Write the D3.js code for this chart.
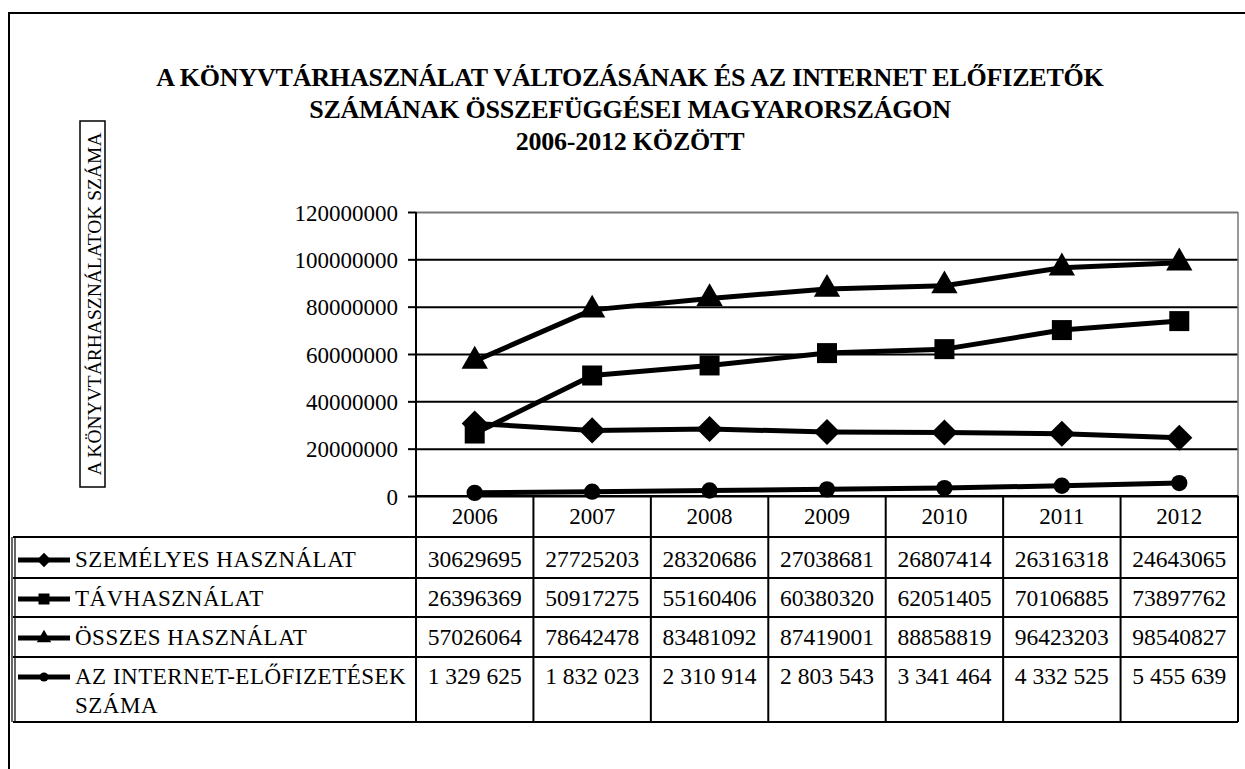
<!DOCTYPE html>
<html>
<head>
<meta charset="utf-8">
<script src="https://cdn.jsdelivr.net/npm/d3@7"></script>
<style>
  body { margin: 0; background: #fff; }
  text { font-family: "Liberation Serif", "Times New Roman", serif; fill: #000; }
</style>
</head>
<body>
<div id="chart"></div>
<script>
// data
const years = ["2006", "2007", "2008", "2009", "2010", "2011", "2012"];
const szemelyes = [30629695, 27725203, 28320686, 27038681, 26807414, 26316318, 24643065];
const tavhasznalat = [26396369, 50917275, 55160406, 60380320, 62051405, 70106885, 73897762];
const osszes = [57026064, 78642478, 83481092, 87419001, 88858819, 96423203, 98540827];
const internet = [1329625, 1832023, 2310914, 2803543, 3341464, 4332525, 5455639];
const seriesNames = ["SZEMÉLYES HASZNÁLAT", "TÁVHASZNÁLAT", "ÖSSZES HASZNÁLAT", "AZ INTERNET-ELŐFIZETÉSEK|SZÁMA"];
const yTicks = [0, 20000000, 40000000, 60000000, 80000000, 100000000, 120000000];
const titleLines = [
  "A KÖNYVTÁRHASZNÁLAT VÁLTOZÁSÁNAK ÉS  AZ INTERNET ELŐFIZETŐK",
  "SZÁMÁNAK ÖSSZEFÜGGÉSEI MAGYARORSZÁGON",
  "2006-2012 KÖZÖTT"
];
const yTitle = "A KÖNYVTÁRHASZNÁLATOK SZÁMA";

const series = [
  {name: seriesNames[0], values: szemelyes, symbol: "diamond"},
  {name: seriesNames[1], values: tavhasznalat, symbol: "square"},
  {name: seriesNames[2], values: osszes, symbol: "triangle"},
  {name: seriesNames[3], values: internet, symbol: "circle", spaced: true}
];

const W = 1245, H = 769;
const plot = {left: 416, right: 1238, top: 212, bottom: 496};

const svg = d3.select("#chart")
    .append("svg")
    .attr("width", W)
    .attr("height", H);

// outer frame (runs off the right and bottom edges)
svg.append("rect")
    .attr("x", 9).attr("y", 13)
    .attr("width", 1300).attr("height", 900)
    .attr("fill", "none").attr("stroke", "#000").attr("stroke-width", 2);

// title
svg.selectAll(".title")
  .data(titleLines)
  .join("text")
    .attr("class", "title")
    .attr("x", 630)
    .attr("y", (d, i) => 86 + i * 32)
    .attr("text-anchor", "middle")
    .style("font-size", "26px")
    .style("font-weight", "bold")
    .style("letter-spacing", "-0.2px")
    .text(d => d);

// y title in a box
svg.append("rect")
    .attr("x", 80).attr("y", 121)
    .attr("width", 25).attr("height", 366)
    .attr("fill", "none").attr("stroke", "#000").attr("stroke-width", 1.5);
svg.append("text")
    .attr("transform", "translate(100.5, 304) rotate(-90)")
    .attr("text-anchor", "middle")
    .style("font-size", "19.5px")
    .text(yTitle);

// scales
const x = d3.scaleBand().domain(years).range([plot.left, plot.right]);
const y = d3.scaleLinear().domain([0, 120000000]).range([plot.bottom, plot.top]);

// gridlines
svg.append("g")
    .attr("transform", `translate(${plot.left},0)`)
    .call(d3.axisLeft(y).tickValues(yTicks).tickSize(-(plot.right - plot.left)).tickFormat(""))
    .call(g => g.select(".domain").remove())
    .call(g => g.selectAll("line").attr("stroke", "#000").attr("stroke-width", 2))
    .call(g => g.selectAll("line").filter(d => d === 120000000).attr("stroke", "#777"));

// right border of plot
svg.append("line")
    .attr("x1", plot.right).attr("x2", plot.right)
    .attr("y1", plot.top).attr("y2", plot.bottom)
    .attr("stroke", "#777").attr("stroke-width", 1.5);

// y axis
svg.append("g")
    .attr("transform", `translate(${plot.left},0)`)
    .call(d3.axisLeft(y).tickValues(yTicks).tickSize(8).tickPadding(10).tickFormat(d3.format("d")))
    .call(g => g.select(".domain").attr("stroke-width", 2).attr("d", `M0,${plot.top}V${plot.bottom + 4}`))
    .call(g => g.selectAll("line").attr("stroke-width", 2))
    .call(g => g.selectAll("text").style("font-size", "23px").style("font-family", "Liberation Serif").attr("dy", "0.35em"));

// symbol helper
function symbolPath(type, scale) {
  const s = scale || 1;
  if (type === "diamond") return d3.symbol().type(d3.symbolSquare).size(340 * s * s)();
  if (type === "square") return d3.symbol().type(d3.symbolSquare).size(400 * s * s)();
  if (type === "triangle") return d3.symbol().type(d3.symbolTriangle).size(300 * s * s)();
  return d3.symbol().type(d3.symbolCircle).size(210 * s * s)();
}

// lines and markers
const line = d3.line()
    .x((d, i) => x(years[i]) + x.bandwidth() / 2)
    .y(d => y(d));

series.forEach(s => {
  svg.append("path")
      .datum(s.values)
      .attr("fill", "none")
      .attr("stroke", "#000")
      .attr("stroke-width", 5)
      .attr("stroke-linejoin", "round")
      .attr("d", line);
  svg.append("g").selectAll("path")
    .data(s.values)
    .join("path")
      .attr("d", symbolPath(s.symbol))
      .attr("fill", "#000")
      .attr("transform", (d, i) => `translate(${x(years[i]) + x.bandwidth() / 2},${y(d)})` + (s.symbol === "diamond" ? " rotate(45)" : ""));
});

// data table
const rowEdges = [496, 537, 578, 617, 657, 722];
const tableLeft = 13;
const fmtPlain = d3.format("d");
const fmtSpaced = d3.formatLocale({decimal: ",", thousands: " ", grouping: [3], currency: ["", ""]}).format(",d");

const table = svg.append("g");
// horizontal rules
table.selectAll(".hrule")
  .data(rowEdges)
  .join("line")
    .attr("x1", (d, i) => i === 0 ? plot.left : tableLeft)
    .attr("x2", plot.right)
    .attr("y1", d => d).attr("y2", d => d)
    .attr("stroke", "#000").attr("stroke-width", 2);
// vertical rules between years
table.selectAll(".vrule")
  .data(years.concat(["end"]))
  .join("line")
    .attr("x1", d => d === "end" ? plot.right : x(d))
    .attr("x2", d => d === "end" ? plot.right : x(d))
    .attr("y1", rowEdges[0]).attr("y2", rowEdges[5])
    .attr("stroke", "#000").attr("stroke-width", 2);
// left double edge
[12, 15].forEach(lx => {
  table.append("line")
      .attr("x1", lx).attr("x2", lx)
      .attr("y1", rowEdges[1]).attr("y2", rowEdges[5])
      .attr("stroke", "#000").attr("stroke-width", 1.2);
});

// year header
table.selectAll(".year")
  .data(years)
  .join("text")
    .attr("x", d => x(d) + x.bandwidth() / 2)
    .attr("y", 524)
    .attr("text-anchor", "middle")
    .style("font-size", "23px")
    .text(d => d);

const rowBase = [567, 606, 645, 684];
series.forEach((s, r) => {
  // values
  table.append("g").selectAll("text")
    .data(s.values)
    .join("text")
      .attr("x", (d, i) => x(years[i]) + x.bandwidth() / 2)
      .attr("y", rowBase[r])
      .attr("text-anchor", "middle")
      .style("font-size", "23.5px")
      .text(d => s.spaced ? fmtSpaced(d) : fmtPlain(d));
  // legend key
  const ky = rowBase[r] - 7;
  table.append("line")
      .attr("x1", 18).attr("x2", 70)
      .attr("y1", ky).attr("y2", ky)
      .attr("stroke", "#000").attr("stroke-width", 5);
  table.append("path")
      .attr("d", symbolPath(s.symbol, 0.55))
      .attr("fill", "#000")
      .attr("transform", `translate(44,${ky})` + (s.symbol === "diamond" ? " rotate(45)" : ""));
  // legend label (may wrap)
  const parts = s.name.split("|");
  table.append("text")
      .attr("x", 75)
      .attr("y", rowBase[r])
      .style("font-size", "23px")
      .style("letter-spacing", "0.5px")
      .selectAll("tspan")
      .data(parts)
      .join("tspan")
        .attr("x", 75)
        .attr("dy", (d, i) => i === 0 ? 0 : 29)
        .text(d => d);
});
</script>
</body>
</html>
